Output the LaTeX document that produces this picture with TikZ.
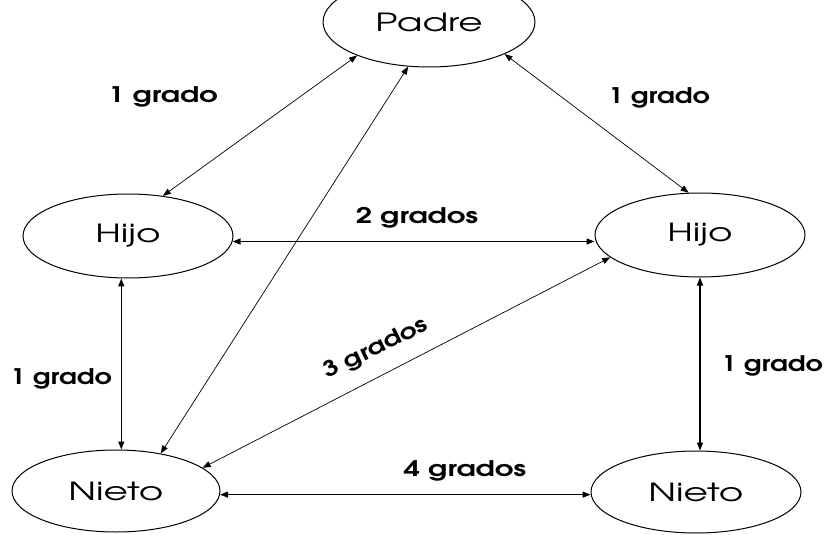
\documentclass[tikz,border=0pt]{standalone}
\usepackage{fontspec}
\usepackage{graphicx}
\setmainfont{TeX Gyre Adventor}
\usetikzlibrary{arrows.meta,shapes.geometric}
\newcommand\widetxt[2][1.35]{\scalebox{#1}[1]{#2}}
\begin{document}
\begin{tikzpicture}[x=1pt,y=-1pt,
  person/.style={draw, ellipse, line width=1pt, inner sep=0pt, minimum width=210pt, minimum height=84pt, font=\fontsize{25}{30}\selectfont},
  link/.style={{Triangle[length=8pt,width=6pt]}-{Triangle[length=8pt,width=6pt]}, line width=0.7pt},
  hlink/.style={link, line width=1.4pt},
  lbl/.style={font=\fontsize{21.5}{26}\selectfont\bfseries, inner sep=0pt}]
\clip (0,0) rectangle (828,535);
\fill[white] (0,0) rectangle (828,535);
\node[person, minimum width=212pt, minimum height=90pt] (padre) at (429,22) {\raisebox{-3pt}{\widetxt[1.5]{Padre}}};
\node[person] (hijoL) at (128,236) {\widetxt[1.5]{Hijo}};
\node[person] (hijoR) at (700,235) {\widetxt[1.5]{Hijo}};
\node[person, minimum width=208pt, minimum height=82pt] (nietoL) at (116,491) {\widetxt[1.5]{Nieto}};
\node[person, minimum height=82pt] (nietoR) at (696,492) {\widetxt[1.5]{Nieto}};
\draw[link] (padre.205) -- (hijoL.49);
\draw[link] (padre.337) -- (hijoR.105);
\draw[link] (padre.245) -- (nietoL.40);
\draw[link] (nietoL.15) -- (hijoR.194);
\draw[hlink] (hijoL.-3) -- (hijoL.-3 -| hijoR.west);
\draw[hlink] (hijoL.261) -- (hijoL.261 |- nietoL.north);
\draw[hlink] (hijoR.south) -- (hijoR.south |- nietoR.north);
\draw[hlink] (nietoL.-2) -- (nietoL.-2 -| nietoR.west);
\node[lbl] (l1) at (163,97) {\widetxt{1 grado}};
\node[lbl] (l2) at (659,98) {\widetxt[1.25]{1 grado}};
\node[lbl] (l3) at (417,218) {\widetxt{2 grados}};
\node[lbl, rotate=26] (l4) at (376,349) {\widetxt[1.25]{3 grados}};
\node[lbl] (l5) at (61,379) {\widetxt[1.25]{1 grado}};
\node[lbl] (l6) at (772,366) {\widetxt[1.25]{1 grado}};
\node[lbl] (l7) at (465,471) {\widetxt{4 grados}};
\end{tikzpicture}
\end{document}
